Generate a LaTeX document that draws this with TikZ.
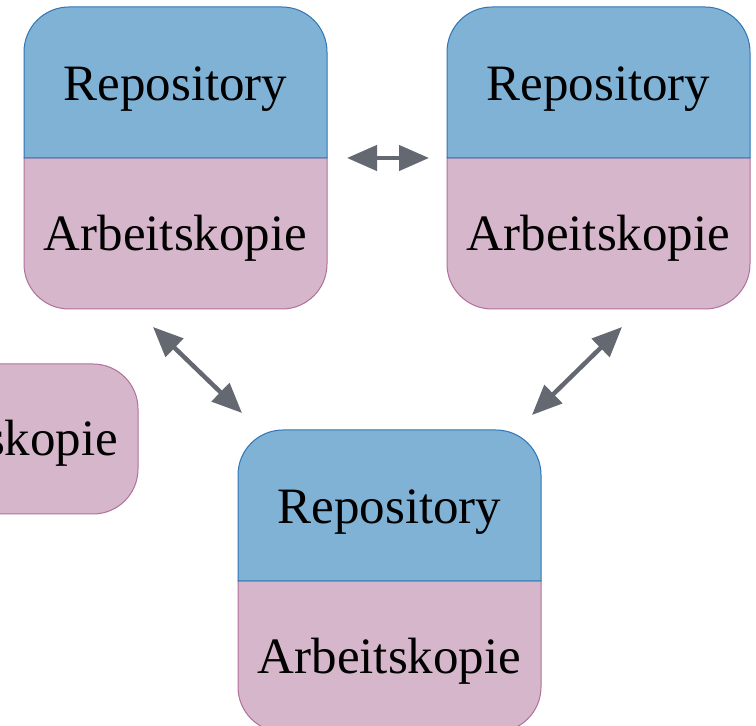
\documentclass[tikz,border=0pt]{standalone}
\usepackage{fontspec}
\setmainfont{Liberation Serif}
\usetikzlibrary{arrows.meta}
\definecolor{repofill}{RGB}{127,178,212}
\definecolor{repoline}{RGB}{46,117,182}
\definecolor{wcfill}{RGB}{214,182,202}
\definecolor{wcline}{RGB}{176,112,154}
\definecolor{arrowgray}{RGB}{100,104,112}
\tikzset{
  repopart/.style={fill=repofill, draw=repoline, line width=1pt},
  wcpart/.style={fill=wcfill, draw=wcline, line width=1pt},
  boxtext/.style={font=\fontsize{51}{60}\selectfont, anchor=base, inner sep=0pt},
  synctip/.tip={Triangle[length=30pt,width=25pt]},
  syncarrow/.style={draw=arrowgray, line width=4.5pt, synctip-synctip},
}
% #1 name, #2 left x, #3 top y
\newcommand\repobox[3]{%
  \path[wcpart] (#2,#3-151) [rounded corners=45pt] -- (#2,#3-302) -- (#2+303,#3-302) [sharp corners] -- (#2+303,#3-151) -- cycle;
  \path[repopart] (#2,#3-151) [rounded corners=45pt] -- (#2,#3) -- (#2+303,#3) [sharp corners] -- (#2+303,#3-151) -- cycle;
  \node[boxtext] (#1-r) at (#2+151.5,#3-75.5-18) {Repository};
  \node[boxtext] (#1-a) at (#2+151.5,#3-226.5-17) {Arbeitskopie};
}
\begin{document}
\begin{tikzpicture}[x=1pt,y=1pt]
\useasboundingbox (0,0) rectangle (756,726);
\clip (0,0) rectangle (756,726);
% partial box at the left edge
\path[wcpart, rounded corners=45pt] (-165,212) rectangle (138,362);
\node[boxtext] (p-a) at (-13.5,287-17) {Arbeitskopie};
\repobox{one}{24}{719}
\repobox{two}{447}{719}
\repobox{three}{238}{296}
% arrow ends
\coordinate (h1) at (347,568);
\coordinate (h2) at (429,568);
\coordinate (l1) at (153,399);
\coordinate (l2) at (242,313);
\coordinate (r1) at (622,399);
\coordinate (r2) at (532,311);
\draw[syncarrow] (h1) -- (h2);
\draw[syncarrow] (l1) -- (l2);
\draw[syncarrow] (r1) -- (r2);
\end{tikzpicture}
\end{document}
